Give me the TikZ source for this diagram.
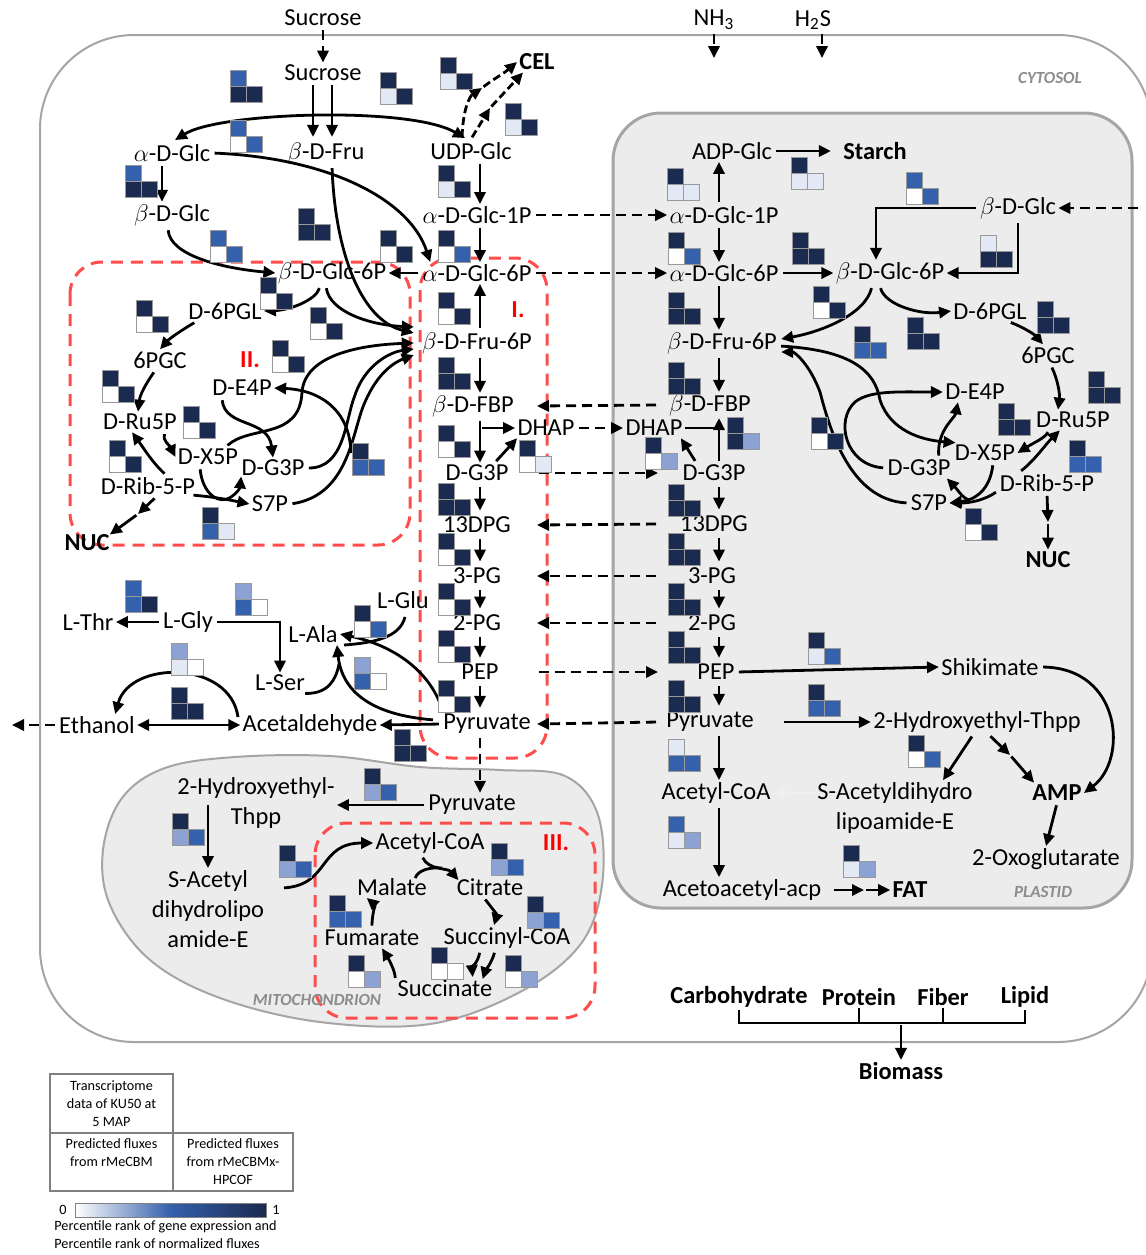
\documentclass[tikz,border=0pt]{standalone}
\usepackage{fontspec}
\setmainfont{Carlito}
\usetikzlibrary{arrows.meta,calc}
\definecolor{hD}{RGB}{27,42,79}
\definecolor{hM}{RGB}{52,96,172}
\definecolor{hL}{RGB}{139,162,210}
\definecolor{hP}{RGB}{226,232,244}
\definecolor{hW}{RGB}{255,255,255}
\definecolor{boxred}{RGB}{255,77,77}
\definecolor{compgray}{RGB}{165,165,165}
\definecolor{compfill}{RGB}{236,236,236}
\newcommand{\mfont}{\fontsize{12.2}{15}\selectfont}
% heat map glyph: x, y of top cell, then the three colours
\newcommand{\hmap}[5]{%
  \draw[hcell,fill=#3] (#1,#2) rectangle ++(16,16);
  \draw[hcell,fill=#4] (#1,#2) ++(0,16) rectangle ++(16,16);
  \draw[hcell,fill=#5] (#1,#2) ++(16,16) rectangle ++(16,16);}
\begin{document}
\begin{tikzpicture}[x=0.5pt,y=-0.5pt,
  met/.style={font=\mfont,inner sep=1pt},
  metb/.style={font=\mfont\bfseries,inner sep=1pt},
  comp/.style={font=\fontsize{8.5}{10}\selectfont\bfseries\itshape,text=black!45},
  roman/.style={font=\mfont\bfseries,text=red},
  arr/.style={line width=1.4pt,-{Triangle[length=6pt,width=5.6pt]},shorten <=1pt},
  arrb/.style={line width=1.4pt,{Triangle[length=6pt,width=5.6pt]}-{Triangle[length=6pt,width=5.6pt]}},
  darr/.style={arr,dash pattern=on 5pt off 3pt},
  sarr/.style={arr,shorten <=2pt,shorten >=2pt},
  ln/.style={line width=1.4pt},
  redbox/.style={draw=boxred,line width=1.5pt,dash pattern=on 6pt off 4pt,rounded corners=16pt},
  hcell/.style={draw=gray!80,line width=0.4pt},
  faint/.style={line width=1.4pt,draw=gray!12,-{Triangle[length=6pt,width=5.6pt]}},
  legtxt/.style={font=\fontsize{7.1}{9}\selectfont,align=center,inner sep=0pt}]
\useasboundingbox (0,0) rectangle (1146,1255);
\fill[white] (0,0) rectangle (1146,1255);

% compartments
\draw[compgray,line width=1pt,rounded corners=47pt] (40,35) rectangle (1152,1042);
\draw[compgray,line width=1.5pt,fill=compfill,rounded corners=24pt] (613,113) rectangle (1132,908);
\draw[compgray,line width=1pt,fill=compfill] plot[smooth cycle,tension=0.6] coordinates {
  (103,850) (122,798) (165,768) (235,757) (330,756) (420,767) (500,770) (565,776)
  (598,815) (602,885) (580,945) (520,992) (430,1024) (320,1022) (220,998) (150,960) (110,905)};
\draw[redbox] (70,262) rectangle (410,545);
\draw[redbox] (420,258) rectangle (547,758);
\draw[redbox] (315,823) rectangle (595,1018);

\node[comp] (cytlab) at (1050,78) {CYTOSOL};
\node[comp] (plalab) at (1043,892) {PLASTID};
\node[comp] (mitlab) at (317,1000) {MITOCHONDRION};
\node[roman] (rI) at (518,310) {I.};
\node[roman] (rII) at (250,360) {II.};
\node[roman] (rIII) at (556,843) {III.};

% cytosol metabolites
\node[met] (sucO) at (323,18) {Sucrose};
\node[met] (suc) at (323,73) {Sucrose};
\node[met] (nh) at (714,20) {NH\textsubscript{3}};
\node[met] (hs) at (813,20) {H\textsubscript{2}S};
\node[metb] (cel) at (537,62) {CEL};
\node[met] (aglc) at (172,153) {$\alpha$-D-Glc};
\node[met] (bfru) at (326,153) {$\beta$-D-Fru};
\node[met] (udpg) at (471,151) {UDP-Glc};
\node[met] (bglc) at (172,215) {$\beta$-D-Glc};
\node[met] (ag1p) at (477,215) {$\alpha$-D-Glc-1P};
\node[met] (bg6pL) at (332,273) {$\beta$-D-Glc-6P};
\node[met] (ag6p) at (477,273) {$\alpha$-D-Glc-6P};
\node[met] (pglL) at (225,311) {D-6PGL};
\node[met] (pgcL) at (160,360) {6PGC};
\node[met] (e4pL) at (242,388) {D-E4P};
\node[met] (ru5pL) at (140,422) {D-Ru5P};
\node[met] (x5pL) at (208,457) {D-X5P};
\node[met] (g3pL) at (273,468) {D-G3P};
\node[met] (rib5pL) at (148,486) {D-Rib-5-P};
\node[met] (s7pL) at (270,504) {S7P};
\node[metb] (nucL) at (87,543) {NUC};
\node[met] (f6p) at (477,343) {$\beta$-D-Fru-6P};
\node[met] (fbp) at (473,406) {$\beta$-D-FBP};
\node[met] (dhap) at (546,428) {DHAP};
\node[met] (g3p) at (477,473) {D-G3P};
\node[met] (dpg) at (477,525) {13DPG};
\node[met] (pg3) at (477,576) {3-PG};
\node[met] (pg2) at (477,623) {2-PG};
\node[met] (pep) at (480,672) {PEP};
\node[met] (pyr) at (487,724) {Pyruvate};
\node[met] (glu) at (403,600) {L-Glu};
\node[met] (ala) at (313,634) {L-Ala};
\node[met] (thr) at (88,622) {L-Thr};
\node[met] (gly) at (188,622) {L-Gly};
\node[met] (ser) at (280,683) {L-Ser};
\node[met] (eth) at (97,725) {Ethanol};
\node[met] (acald) at (310,725) {Acetaldehyde};

% mitochondrion
\node[met,align=center] (het) at (256,803) {2-Hydroxyethyl-\\Thpp};
\node[met] (pyrM) at (472,805) {Pyruvate};
\node[met,align=center] (sac) at (208,909) {S-Acetyl\\dihydrolipo\\amide-E};
\node[met] (acoaM) at (430,843) {Acetyl-CoA};
\node[met] (mal) at (392,887) {Malate};
\node[met] (cit) at (490,887) {Citrate};
\node[met] (fum) at (372,938) {Fumarate};
\node[met] (scoa) at (507,938) {Succinyl-CoA};
\node[met] (succ) at (445,988) {Succinate};

% plastid
\node[met] (adpg) at (732,151) {ADP-Glc};
\node[metb] (starch) at (875,151) {Starch};
\node[met] (ag1pP) at (724,215) {$\alpha$-D-Glc-1P};
\node[met] (bglcP) at (1018,208) {$\beta$-D-Glc};
\node[met] (ag6pP) at (724,273) {$\alpha$-D-Glc-6P};
\node[met] (bg6pP) at (890,273) {$\beta$-D-Glc-6P};
\node[met] (pglP) at (990,311) {D-6PGL};
\node[met] (pgcP) at (1048,355) {6PGC};
\node[met] (f6pP) at (722,343) {$\beta$-D-Fru-6P};
\node[met] (e4pP) at (975,392) {D-E4P};
\node[met] (ru5pP) at (1073,420) {D-Ru5P};
\node[met] (x5pP) at (985,453) {D-X5P};
\node[met] (g3pR) at (919,468) {D-G3P};
\node[met] (rib5pP) at (1047,483) {D-Rib-5-P};
\node[met] (s7pP) at (929,503) {S7P};
\node[metb] (nucP) at (1048,560) {NUC};
\node[met] (fbpP) at (710,405) {$\beta$-D-FBP};
\node[met] (dhapP) at (654,428) {DHAP};
\node[met] (g3pP) at (714,473) {D-G3P};
\node[met] (dpgP) at (714,524) {13DPG};
\node[met] (pg3P) at (712,576) {3-PG};
\node[met] (pg2P) at (712,623) {2-PG};
\node[met] (pepP) at (716,672) {PEP};
\node[met] (pyrP) at (710,722) {Pyruvate};
\node[met] (acoaP) at (716,793) {Acetyl-CoA};
\node[met] (aacp) at (742,890) {Acetoacetyl-acp};
\node[metb] (fat) at (910,890) {FAT};
\node[met] (shik) at (990,667) {Shikimate};
\node[met] (hetP) at (977,722) {2-Hydroxyethyl-Thpp};
\node[met,align=center] (sadl) at (895,808) {S-Acetyldihydro\\lipoamide-E};
\node[metb] (amp) at (1057,793) {AMP};
\node[met] (oxo) at (1046,859) {2-Oxoglutarate};

% biomass
\node[metb] (carb) at (739,997) {Carbohydrate};
\node[metb] (prot) at (859,997) {Protein};
\node[metb] (fib) at (943,997) {Fiber};
\node[metb] (lip) at (1025,997) {Lipid};
\node[metb] (biom) at (901,1071) {Biomass};

\coordinate (colI) at (480,0);
\coordinate (colP) at (719,0);
\coordinate (xL) at (537,0);
\coordinate (xR) at (658,0);
\coordinate (nhIn) at (714,58);
\coordinate (hsIn) at (822,58);
\coordinate (ethOut) at (12,725);
\coordinate (bglcIn) at (1140,208);
\coordinate (brk) at (901,1023);
\coordinate (sucL) at (313,0);
\coordinate (sucR) at (332,0);

% inputs
\draw[darr] (sucO) -- (suc);
\draw[darr] (nh.south -| nhIn) -- (nhIn);
\draw[darr] (hs.south -| hsIn) -- (hsIn);
\draw[darr] (eth.west) -- (ethOut);

% sucrose and hexoses
\draw[arr] (suc.south -| sucL) -- ($(bfru.north -| sucL)+(0,-3)$);
\draw[arr] (suc.south -| sucR) -- ($(bfru.north -| sucR)+(0,-3)$);
\draw[arrb] ($(aglc.north)+(3,-2)$) .. controls (220,112) and (410,106) .. ($(udpg.north)+(-6,-2)$);
\draw[arr,dash pattern=on 4pt off 2pt] ($(udpg.north)+(-9,-1)$) .. controls (463,108) and (470,96) .. (482,88);
\draw[arr,dash pattern=on 4pt off 2pt] (482,88) .. controls (492,80) and (503,74) .. (cel.west);
\draw[arr,dash pattern=on 4pt off 2pt] ($(udpg.north)+(0,-1)$) -- (490,108);
\draw[arr,dash pattern=on 4pt off 2pt] (490,108) -- ($(cel.south west)+(6,0)$);
\draw[arr] ($(udpg.south)+(9,0)$) -- ($(ag1p.north)+(3,0)$);
\draw[arr] ($(aglc.south)+(-10,0)$) -- ($(bglc.north)+(-10,0)$);
\draw[arr] (aglc.east) .. controls (330,158) and (410,200) .. ($(ag6p.north west)+(10,0)$);
\draw[arr] ($(bfru.south)+(6,0)$) .. controls (335,250) and (360,320) .. ($(f6p.west)+(-6,-10)$);
\draw[arr] ($(bglc.south)+(-4,0)$) .. controls (170,255) and (220,268) .. (bg6pL.west);
\draw[arr] ($(ag1p.south)+(3,0)$) -- ($(ag6p.north)+(3,0)$);
\draw[arr] (ag6p.west) -- (bg6pL.east);
\draw[arr] ($(f6p.north)+(3,0)$) -- ($(ag6p.south)+(3,0)$);

% pentose phosphate, cytosol
\draw[arr] ($(bg6pL.south)+(-12,0)$) .. controls (316,300) and (290,310) .. (pglL.east);
\draw[arr] ($(bg6pL.south)+(-6,0)$) .. controls (330,312) and (370,325) .. ($(f6p.west)+(-6,-16)$);
\draw[arr] ($(pglL.south west)+(10,0)$) .. controls (185,328) and (170,338) .. (pgcL.north);
\draw[arr] ($(pgcL.south)+(-5,0)$) .. controls (145,385) and (140,395) .. ($(ru5pL.north)+(-2,0)$);
\draw[arr] ($(ru5pL.south east)+(-14,0)$) .. controls (162,440) and (170,446) .. (x5pL.west);
\draw[arr] ($(rib5pL.north)+(18,0)$) .. controls (152,462) and (145,450) .. ($(ru5pL.south)+(-8,0)$);
\coordinate (nucMidL) at (138,514);
\draw[arr] ($(rib5pL.south)+(8,0)$) -- (nucMidL);
\draw[arr] (nucMidL) -- ($(nucL.north east)+(-2,2)$);
\draw[arr] ($(rib5pL.east)+(-6,9)$) .. controls (215,497) and (230,500) .. (s7pL.west);
\draw[arr] ($(x5pL.south)+(-8,0)$) .. controls (202,490) and (215,503) .. (227,499) .. controls (235,496) and (240,488) .. ($(g3pL.south west)+(2,-2)$);
\draw[arr] ($(e4pL.south)+(-20,0)$) .. controls (225,428) and (268,418) .. (g3pL.north);
\draw[arr] ($(x5pL.north)+(18,0)$) .. controls (250,425) and (300,440) .. (302,392) .. controls (305,355) and (360,345) .. ($(f6p.west)+(-6,0)$);
\draw[arr] (g3pL.east) .. controls (345,468) and (345,420) .. (355,395) .. controls (365,365) and (390,352) .. ($(f6p.west)+(-6,6)$);
\draw[arr] (s7pL.east) .. controls (350,495) and (352,430) .. (365,402) .. controls (378,372) and (395,362) .. ($(f6p.west)+(-6,12)$);
\draw[arr] (351,455) .. controls (350,410) and (320,390) .. (e4pL.east);

% glycolysis, cytosol
\draw[arr] ($(f6p.south)+(3,0)$) -- ($(fbp.north)+(7,0)$);
\draw[arr] (fbp.south -| colI) -- (g3p.north -| colI);
\draw[arr] (dhap.west -| colI) -- (dhap.west);
\draw[arr] ($(g3p.north east)+(-16,0)$) -- ($(dhap.south west)+(2,0)$);
\draw[sarr] (g3p.south -| colI) -- (dpg.north -| colI);
\draw[sarr] (dpg.south -| colI) -- (pg3.north -| colI);
\draw[sarr] (pg3.south -| colI) -- (pg2.north -| colI);
\draw[sarr] (pg2.south -| colI) -- (pep.north -| colI);
\draw[sarr] (pep.south -| colI) -- (pyr.north -| colI);
\draw[arr] (pyr.west) -- (acald.east);

% amino acids and fermentation
\draw[arr] ($(pyr.north west)+(2,0)$) .. controls (430,670) and (392,645) .. (ala.east);
\draw[arr] ($(pyr.west)+(-6,-4)$) .. controls (372,715) and (342,692) .. ($(ala.south east)+(-3,0)$);
\draw[ln] ($(ser.south east)+(-2,0)$) .. controls (328,694) and (336,680) .. (339,664);
\draw[ln] ($(glu.south)+(2,6)$) .. controls (400,638) and (372,643) .. (344,645);
\draw[arr] (gly.west) -- (thr.east);
\draw[arr] (gly.east) -| (ser.north);
\draw[arrb] (eth.east) -- (acald.west);
\draw[arr] ($(acald.west)+(-2,-6)$) .. controls (230,660) and (130,660) .. ($(eth.north east)+(-22,0)$);

% mitochondrion
\draw[darr] (pyr.south -| colI) -- (pyrM.north -| colI);
\draw[arr] (pyrM.west) -- (pyrM.west -| het.east);
\draw[arr] (het.west -| sac.north) -- (sac.north);
\draw[arr] (282,888) .. controls (330,885) and (318,843) .. (acoaM.west);
\draw[arr] ($(acoaM.south)+(-8,0)$) .. controls (428,870) and (448,868) .. ($(cit.north west)+(4,4)$);
\draw[ln] ($(mal.north east)+(-14,2)$) .. controls (418,870) and (430,867) .. (442,868);
\draw[arr] ($(cit.south)+(-6,0)$) .. controls (492,908) and (497,915) .. ($(scoa.north)+(-13,0)$);
\draw[arr] ($(scoa.south)+(-27,0)$) .. controls (478,962) and (472,968) .. ($(succ.north east)+(-22,0)$);
\draw[arr] ($(scoa.south)+(-12,0)$) .. controls (492,962) and (485,972) .. ($(succ.north east)+(-12,2)$);
\draw[arr] ($(succ.west)+(0,-8)$) .. controls (395,970) and (388,958) .. ($(fum.south)+(10,0)$);
\draw[arr] ($(fum.north)+(0,0)$) .. controls (372,915) and (375,905) .. ($(mal.south west)+(12,0)$);

% plastid, starch and hexoses
\draw[arr] (adpg.east) -- ($(starch.west)+(-10,0)$);
\draw[arr] (ag1pP.north -| colP) -- (adpg.south -| colP);
\draw[arr] (ag1pP.south -| colP) -- (ag6pP.north -| colP);
\draw[arr] (ag6pP.east) -- (bg6pP.west);
\draw[arr] (ag6pP.south -| colP) -- (f6pP.north -| colP);
\draw[arr] (bglcP.west) -| ($(bg6pP.north)+(-14,0)$);
\draw[arr] (bglcP.south) |- (bg6pP.east);
\draw[darr] (bglcIn) -- (bglcP.east);

% pentose phosphate, plastid
\draw[arr] ($(bg6pP.south)+(-18,0)$) .. controls (865,315) and (820,332) .. ($(f6pP.east)+(2,-4)$);
\draw[arr] ($(bg6pP.south)+(-10,0)$) .. controls (885,305) and (920,315) .. (pglP.west);
\draw[arr] ($(pglP.south east)+(-20,0)$) .. controls (1025,328) and (1035,335) .. ($(pgcP.north)+(-5,0)$);
\draw[arr] ($(pgcP.south)+(3,0)$) .. controls (1058,380) and (1060,395) .. ($(ru5pP.north)+(-15,0)$);
\draw[arr] ($(ru5pP.south west)+(15,0)$) .. controls (1045,438) and (1035,442) .. (x5pP.east);
\draw[arr] ($(rib5pP.north west)+(22,0)$) .. controls (1035,460) and (1045,445) .. ($(ru5pP.south west)+(26,0)$);
\coordinate (nucMidP) at (1048,522);
\draw[arr] (rib5pP.south) -- (nucMidP);
\draw[arr] (nucMidP) -- (nucP.north);
\draw[arr] ($(f6pP.east)+(0,3)$) .. controls (850,350) and (875,370) .. (880,400) .. controls (890,430) and (920,440) .. ($(x5pP.north west)+(3,0)$);
\draw[arr] ($(g3pR.north east)+(-14,0)$) .. controls (937,430) and (955,418) .. ($(e4pP.south west)+(15,0)$);
\draw[arr] (s7pP.west) .. controls (850,500) and (830,430) .. (820,392) .. controls (810,365) and (795,352) .. ($(f6pP.east)+(2,9)$);
\draw[arr] (g3pR.west) .. controls (845,465) and (835,420) .. (855,402) .. controls (870,390) and (900,392) .. (e4pP.west);
\draw[arr] ($(x5pP.south)+(8,0)$) .. controls (990,490) and (975,500) .. (s7pP.east);
\draw[arr] ($(rib5pP.west)+(0,8)$) .. controls (985,500) and (970,503) .. (s7pP.east);
\draw[arr] (972,501) .. controls (962,498) and (958,490) .. ($(g3pR.south east)+(-6,0)$);

% glycolysis, plastid
\draw[arr] (f6pP.south -| colP) -- (fbpP.north -| colP) ;
\draw[arr] (g3pP.north -| colP) -- (fbpP.south -| colP);
\draw[ln] (dhapP.east) -- (dhapP.east -| colP);
\draw[arr] ($(g3pP.north west)+(16,0)$) -- ($(dhapP.south east)+(-4,0)$);
\draw[sarr] (g3pP.south -| colP) -- (dpgP.north -| colP);
\draw[sarr] (dpgP.south -| colP) -- (pg3P.north -| colP);
\draw[sarr] (pg3P.south -| colP) -- (pg2P.north -| colP);
\draw[sarr] (pg2P.south -| colP) -- (pepP.north -| colP);
\draw[sarr] (pepP.south -| colP) -- (pyrP.north -| colP);
\draw[arr] (pepP.east) -- (shik.west);
\draw[arr] ($(pyrP.east)+(26,0)$) -- (hetP.west);
\draw[arr] (pyrP.south -| colP) -- (acoaP.north -| colP);
\draw[arr] (acoaP.south -| colP) -- (aacp.north -| colP);
\draw[faint] (acoaP.east -| sadl.west) -- (acoaP.east);
\draw[arr] ($(hetP.south)+(-4,0)$) -- ($(sadl.north east)+(-32,0)$);
\coordinate (ampMid) at (1010,755);
\draw[arr] ($(hetP.south)+(12,0)$) -- (ampMid);
\draw[arr] (ampMid) -- ($(amp.north west)+(4,0)$);
\draw[arr] (shik.east) .. controls (1122,668) and (1128,760) .. (amp.east);
\draw[arr] (amp.south) -- (oxo.north);
\coordinate (fatMid) at (864,890);
\draw[arr] ($(aacp.east)+(8,0)$) -- (fatMid);
\draw[arr] (fatMid) -- (fat.west);

% exchange between cytosol and plastid
\draw[darr] (ag1p.east) -- (ag1pP.west);
\draw[darr] (ag6p.east) -- (ag6pP.west);
\draw[darr] (fbpP.west -| xR) -- (fbp.east -| xL);
\draw[darr] (dhap.east) -- (dhapP.west);
\draw[darr] (g3p.east -| xL) -- (g3pP.west -| xR);
\draw[darr] (dpgP.west -| xR) -- (dpg.east -| xL);
\draw[darr] (pg3P.west -| xR) -- (pg3.east -| xL);
\draw[darr] (pg2P.west -| xR) -- (pg2.east -| xL);
\draw[darr] (pep.east -| xL) -- (pepP.west -| xR);
\draw[darr] (pyrP.west -| xR) -- (pyr.east -| xL);

% biomass
\draw[ln] (carb.south) |- (brk) -| (lip.south);
\draw[ln] (prot.south) -- (prot.south |- brk);
\draw[ln] (fib.south) -- (fib.south |- brk);
\draw[arr] (brk) -- (biom.north);

% heat maps
\hmap{230}{70}{hM}{hD}{hD}
\hmap{380}{72}{hD}{hP}{hD}
\hmap{440}{57}{hD}{hP}{hD}
\hmap{505}{103}{hD}{hP}{hD}
\hmap{230}{120}{hM}{hW}{hM}
\hmap{125}{165}{hM}{hD}{hD}
\hmap{438}{165}{hD}{hP}{hD}
\hmap{298}{208}{hD}{hD}{hD}
\hmap{210}{230}{hM}{hW}{hM}
\hmap{380}{230}{hD}{hW}{hD}
\hmap{438}{230}{hD}{hW}{hM}
\hmap{260}{277}{hD}{hW}{hD}
\hmap{136}{300}{hD}{hW}{hD}
\hmap{310}{307}{hD}{hW}{hD}
\hmap{272}{340}{hD}{hW}{hD}
\hmap{102}{370}{hD}{hW}{hD}
\hmap{183}{406}{hD}{hW}{hD}
\hmap{109}{440}{hD}{hW}{hD}
\hmap{352}{443}{hD}{hM}{hM}
\hmap{202}{507}{hD}{hM}{hP}
\hmap{438}{292}{hD}{hW}{hD}
\hmap{438}{357}{hD}{hD}{hD}
\hmap{438}{425}{hD}{hW}{hD}
\hmap{519}{440}{hD}{hW}{hP}
\hmap{438}{483}{hD}{hD}{hD}
\hmap{438}{533}{hD}{hW}{hD}
\hmap{438}{583}{hD}{hW}{hD}
\hmap{438}{630}{hD}{hW}{hD}
\hmap{438}{680}{hD}{hW}{hD}
\hmap{394}{729}{hD}{hD}{hD}
\hmap{354}{605}{hD}{hW}{hM}
\hmap{354}{657}{hL}{hM}{hW}
\hmap{125}{580}{hM}{hM}{hD}
\hmap{235}{583}{hL}{hM}{hW}
\hmap{171}{643}{hL}{hP}{hW}
\hmap{171}{687}{hD}{hD}{hD}
\hmap{364}{768}{hD}{hL}{hM}
\hmap{172}{813}{hD}{hL}{hM}
\hmap{279}{845}{hD}{hL}{hM}
\hmap{491}{843}{hD}{hL}{hM}
\hmap{329}{895}{hD}{hM}{hM}
\hmap{527}{896}{hD}{hL}{hM}
\hmap{348}{955}{hD}{hW}{hL}
\hmap{431}{947}{hD}{hW}{hW}
\hmap{505}{955}{hD}{hW}{hL}
\hmap{667}{168}{hD}{hP}{hP}
\hmap{791}{157}{hD}{hP}{hP}
\hmap{906}{172}{hM}{hW}{hM}
\hmap{668}{232}{hD}{hW}{hM}
\hmap{792}{232}{hD}{hD}{hD}
\hmap{980}{235}{hP}{hD}{hD}
\hmap{668}{292}{hD}{hD}{hD}
\hmap{813}{286}{hD}{hW}{hD}
\hmap{668}{362}{hD}{hD}{hD}
\hmap{854}{326}{hD}{hM}{hM}
\hmap{907}{317}{hD}{hD}{hD}
\hmap{1037}{301}{hD}{hD}{hD}
\hmap{1088}{371}{hD}{hD}{hD}
\hmap{727}{417}{hD}{hD}{hL}
\hmap{645}{437}{hD}{hW}{hL}
\hmap{811}{417}{hD}{hW}{hD}
\hmap{998}{403}{hD}{hD}{hD}
\hmap{1069}{440}{hD}{hM}{hM}
\hmap{965}{508}{hD}{hW}{hD}
\hmap{668}{484}{hD}{hD}{hD}
\hmap{668}{533}{hD}{hD}{hD}
\hmap{668}{583}{hD}{hD}{hD}
\hmap{668}{631}{hD}{hD}{hD}
\hmap{668}{680}{hD}{hD}{hD}
\hmap{808}{632}{hD}{hP}{hM}
\hmap{808}{684}{hD}{hM}{hM}
\hmap{668}{739}{hP}{hM}{hM}
\hmap{908}{735}{hD}{hW}{hM}
\hmap{668}{816}{hM}{hP}{hL}
\hmap{843}{845}{hD}{hP}{hL}

% legend
\draw[gray,line width=0.6pt] (50,1074) rectangle (173,1133);
\draw[gray,line width=0.6pt] (50,1133) rectangle (173,1191);
\draw[gray,line width=0.6pt] (173,1133) rectangle (293,1191);
\node[legtxt] (legT) at (111.5,1104) {Transcriptome\\data of KU50 at\\5 MAP};
\node[legtxt,anchor=north] (legA) at (111.5,1138) {Predicted fluxes\\from rMeCBM};
\node[legtxt,anchor=north] (legB) at (233,1138) {Predicted fluxes\\from rMeCBMx-\\HPCOF};
\shade[left color=white,right color=hD,middle color=hM] (75,1203) rectangle (266,1217);
\draw[gray,line width=0.4pt] (75,1203) rectangle (266,1217);
\node[legtxt] (bar0) at (63,1210) {0};
\node[legtxt] (bar1) at (276,1210) {1};
\node[legtxt,align=left,anchor=north west] (legC) at (54,1220) {Percentile rank of gene expression and\\Percentile rank of normalized fluxes};
\end{tikzpicture}
\end{document}
